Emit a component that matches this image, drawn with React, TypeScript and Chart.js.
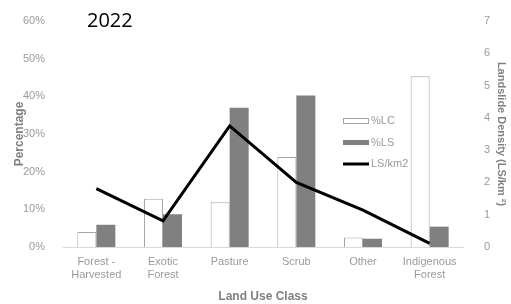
import React, { useEffect, useRef } from 'react';
import { Chart, registerables } from 'chart.js';

Chart.register(...registerables);

const categories: (string | string[])[] = [
  ['Forest -', 'Harvested'],
  ['Exotic', 'Forest'],
  'Pasture',
  'Scrub',
  'Other',
  ['Indigenous', 'Forest'],
];
const lcPercent = [4.0, 12.8, 11.9, 23.9, 2.5, 45.3];
const lsPercent = [5.9, 8.7, 37.0, 40.2, 2.2, 5.4];
const lsDensity = [1.81, 0.81, 3.75, 2.0, 1.14, 0.11];
const seriesLabels = ['%LC', '%LS', 'LS/km2'];
const titleText = '2022';

const FONT = '"Liberation Sans", Arial, sans-serif';
const TICK_COLOR = '#9a9a9a';
const TITLE_COLOR = '#808080';

const insideLegend = {
  id: 'insideLegend',
  afterDraw(chart: any) {
    const ctx = chart.ctx as CanvasRenderingContext2D;
    const ds = chart.data.datasets;
    ctx.save();
    const x = 343;
    const w = 25;
    // %LC
    ctx.fillStyle = ds[0].backgroundColor;
    ctx.strokeStyle = ds[0].borderColor;
    ctx.lineWidth = 1;
    ctx.fillRect(x + 0.5, 118.5, w, 5);
    ctx.strokeRect(x + 0.5, 118.5, w, 5);
    // %LS
    ctx.fillStyle = ds[1].backgroundColor;
    ctx.fillRect(x, 140, w + 1, 5);
    // line
    ctx.strokeStyle = ds[2].borderColor;
    ctx.lineWidth = 3;
    ctx.beginPath();
    ctx.moveTo(x, 164);
    ctx.lineTo(x + w + 1, 164);
    ctx.stroke();
    ctx.font = '11px ' + FONT;
    ctx.fillStyle = TICK_COLOR;
    ctx.textBaseline = 'middle';
    ctx.textAlign = 'left';
    ctx.fillText(ds[0].label, 371, 121);
    ctx.fillText(ds[1].label, 371, 143);
    ctx.fillText(ds[2].label, 371, 164);
    // title 2022
    ctx.font = '20px "Open Sans", sans-serif';
    ctx.fillStyle = '#000';
    ctx.textBaseline = 'alphabetic';
    ctx.fillText(titleText, 87, 27);
    ctx.restore();
  },
};

export default function App() {
  const ref = useRef<HTMLCanvasElement>(null);
  useEffect(() => {
    document.body.style.margin = '0';
    const chart = new Chart(ref.current as HTMLCanvasElement, {
      type: 'bar',
      data: {
        labels: categories,
        datasets: [
          {
            type: 'bar',
            label: seriesLabels[0],
            data: lcPercent,
            backgroundColor: '#ffffff',
            borderColor: '#a6a6a6',
            borderWidth: 1,
            yAxisID: 'y',
            order: 2,
            categoryPercentage: 0.57,
            barPercentage: 1.0,
          },
          {
            type: 'bar',
            label: seriesLabels[1],
            data: lsPercent,
            backgroundColor: '#808080',
            borderWidth: 0,
            yAxisID: 'y',
            order: 2,
            categoryPercentage: 0.57,
            barPercentage: 1.0,
          },
          {
            type: 'line',
            label: seriesLabels[2],
            data: lsDensity,
            borderColor: '#000000',
            backgroundColor: '#000000',
            borderWidth: 3,
            pointRadius: 0,
            tension: 0,
            yAxisID: 'y1',
            order: 0,
          } as any,
        ],
      },
      options: {
        animation: false,
        responsive: true,
        maintainAspectRatio: false,
        layout: { padding: { top: 21, left: 12, right: 3, bottom: 0 } },
        plugins: {
          legend: { display: false },
          tooltip: { enabled: false },
        },
        scales: {
          x: {
            grid: { display: false },
            border: { display: true, color: '#d9d9d9', width: 1 },
            ticks: { color: TICK_COLOR, font: { family: FONT, size: 11 }, padding: 0, maxRotation: 0, autoSkip: false },
            title: { display: true, text: 'Land Use Class', color: TITLE_COLOR, font: { family: FONT, size: 12, weight: 'bold' }, padding: { top: 4, bottom: 0 } },
            afterFit: (s: any) => { s.height = 57; },
          },
          y: {
            position: 'left',
            min: 0,
            max: 60,
            grid: { display: false },
            border: { display: false },
            ticks: { stepSize: 10, color: TICK_COLOR, font: { family: FONT, size: 11 }, padding: 10, callback: (v: any) => v + '%' },
            title: { display: true, text: 'Percentage', color: TITLE_COLOR, font: { family: FONT, size: 12, weight: 'bold' }, padding: 0 },
            afterFit: (s: any) => { s.width = 51; },
          },
          y1: {
            position: 'right',
            min: 0,
            max: 7,
            grid: { display: false },
            border: { display: false },
            ticks: { stepSize: 1, color: TICK_COLOR, font: { family: FONT, size: 11 }, padding: 13 },
            title: { display: true, text: 'Landslide Density (LS/km ²)', color: TITLE_COLOR, font: { family: FONT, size: 11, weight: 'bold' }, padding: 0 },
            afterFit: (s: any) => { s.width = 45; },
          },
        },
      },
      plugins: [insideLegend],
    });
    return () => chart.destroy();
  }, []);
  return (
    <div style={{ position: 'absolute', left: 0, top: 0, width: 511, height: 304 }}>
      <canvas ref={ref} />
    </div>
  );
}
